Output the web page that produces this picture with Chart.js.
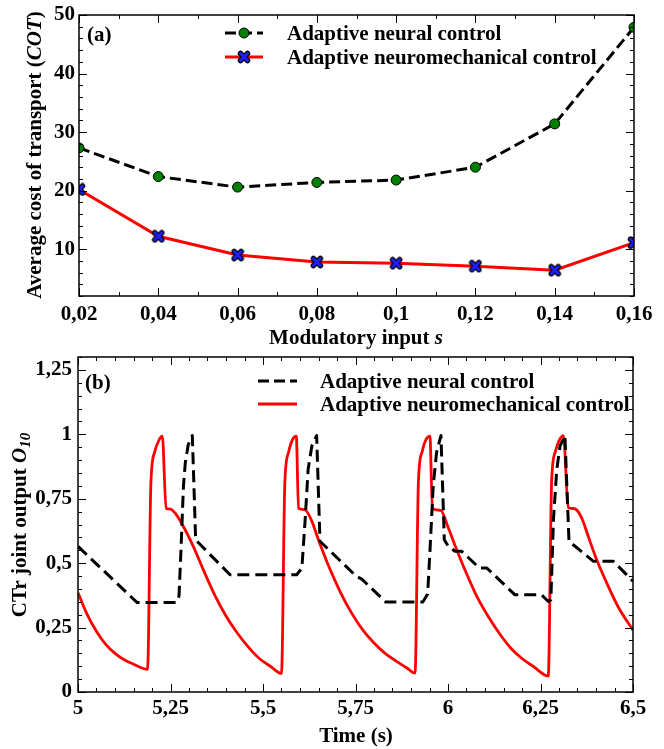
<!DOCTYPE html>
<html>
<head>
<meta charset="utf-8">
<script src="https://cdn.jsdelivr.net/npm/chart.js@4.4.1/dist/chart.umd.min.js"></script>
<style>
    html, body { margin: 0; padding: 0; background: #fff; }
    #wrap { position: relative; width: 664px; height: 749px; }
    canvas { position: absolute; left: 0; }
    #cotChart { top: 0; }
    #ctrChart { top: 352px; }
</style>
</head>
<body>
<div id="wrap">
    <canvas id="cotChart" width="664" height="352"></canvas>
    <canvas id="ctrChart" width="664" height="397"></canvas>
</div>
<script>
// ---- Panel (a): cost of transport vs modulatory input ----
const cotInputs = [0.02, 0.04, 0.06, 0.08, 0.1, 0.12, 0.14, 0.16];
const cotNeural = [27.3, 22.4, 20.6, 21.4, 21.8, 24.0, 31.4, 47.9];
const cotNeuromech = [20.2, 12.2, 9.0, 7.8, 7.6, 7.1, 6.4, 11.1];

const cotTicksX = [0.02, 0.04, 0.06, 0.08, 0.1, 0.12, 0.14, 0.16];
const cotTickLabelsX = ['0,02', '0,04', '0,06', '0,08', '0,1', '0,12', '0,14', '0,16'];
const cotTicksY = [10, 20, 30, 40, 50];
const cotTickLabelsY = ['10', '20', '30', '40', '50'];

// ---- Panel (b): CTr joint output over time ----
const neuralTime = [5.000, 5.160, 5.265, 5.273, 5.278, 5.285, 5.290, 5.298, 5.309, 5.318,
    5.411, 5.591, 5.605, 5.614, 5.622, 5.632, 5.645, 5.654,
    5.752, 5.767, 5.832, 5.932, 5.945, 5.951, 5.960, 5.969, 5.981, 5.990,
    6.001, 6.019, 6.037, 6.085, 6.105, 6.181, 6.253, 6.271, 6.278, 6.285,
    6.294, 6.303, 6.316, 6.327, 6.393, 6.447, 6.500];
const neuralOutput = [0.565, 0.347, 0.347, 0.372, 0.540, 0.800, 0.890, 0.960, 0.995, 0.590,
    0.455, 0.455, 0.480, 0.670, 0.864, 0.955, 0.995, 0.585,
    0.449, 0.438, 0.349, 0.349, 0.380, 0.540, 0.800, 0.929, 0.995, 0.591,
    0.565, 0.546, 0.546, 0.481, 0.481, 0.377, 0.377, 0.351, 0.358, 0.670,
    0.864, 0.955, 0.995, 0.585, 0.507, 0.507, 0.430];

const neuromechTime = [5.000, 5.025, 5.050, 5.075, 5.100, 5.125, 5.150, 5.188,
    5.197, 5.207, 5.218, 5.228,
    5.238, 5.250, 5.262, 5.280, 5.310, 5.340, 5.370, 5.400, 5.430, 5.460, 5.490, 5.520, 5.550,
    5.559, 5.569, 5.580, 5.590,
    5.596, 5.612, 5.630, 5.650, 5.680, 5.710, 5.740, 5.770, 5.800, 5.830, 5.860, 5.890, 5.911,
    5.920, 5.930, 5.940, 5.951,
    5.958, 5.980, 6.000, 6.020, 6.050, 6.080, 6.110, 6.140, 6.170, 6.200, 6.230, 6.271,
    6.280, 6.290, 6.300, 6.312,
    6.325, 6.340, 6.360, 6.380, 6.400, 6.430, 6.460, 6.500];
const neuromechOutput = [0.385, 0.300, 0.235, 0.185, 0.150, 0.125, 0.108, 0.088,
    0.810, 0.930, 0.975, 0.993,
    0.712, 0.710, 0.695, 0.655, 0.570, 0.470, 0.375, 0.295, 0.230, 0.175, 0.130, 0.100, 0.072,
    0.810, 0.930, 0.980, 0.993,
    0.712, 0.708, 0.670, 0.590, 0.480, 0.385, 0.305, 0.240, 0.190, 0.150, 0.120, 0.092, 0.073,
    0.815, 0.932, 0.978, 0.993,
    0.713, 0.705, 0.640, 0.565, 0.460, 0.365, 0.290, 0.225, 0.170, 0.130, 0.100, 0.062,
    0.815, 0.932, 0.975, 0.995,
    0.715, 0.712, 0.680, 0.600, 0.520, 0.420, 0.330, 0.240];

const ctrTicksX = [5, 5.25, 5.5, 5.75, 6, 6.25, 6.5];
const ctrTickLabelsX = ['5', '5,25', '5,5', '5,75', '6', '6,25', '6,5'];
const ctrTicksY = [0, 0.25, 0.5, 0.75, 1, 1.25];
const ctrTickLabelsY = ['0', '0,25', '0,5', '0,75', '1', '1,25'];

// Titles, with italic / subscript parts
const cotTitleY = [{ text: 'Average cost of transport (' }, { text: 'COT', italic: true }, { text: ')' }];
const cotTitleX = [{ text: 'Modulatory input ' }, { text: 's', italic: true }];
const ctrTitleY = [{ text: 'CTr joint output ' }, { text: 'O', italic: true }, { text: '10', italic: true, sub: true }];
const ctrTitleX = [{ text: 'Time (s)' }];

const seriesLabels = ['Adaptive neural control', 'Adaptive neuromechanical control'];

const FAMILY = '"Liberation Serif", "Times New Roman", serif';
const SIZE = 21;

Chart.defaults.font.family = FAMILY;
Chart.defaults.font.weight = 'bold';
Chart.defaults.font.size = SIZE;
Chart.defaults.color = '#000';
Chart.defaults.animation = false;

// Blue X with black outline, used as point style
function makeCross()
{
    const c = document.createElement('canvas');
    c.width = 14;
    c.height = 14;
    const g = c.getContext('2d');
    g.lineCap = 'round';
    const path = () =>
    {
        g.beginPath();
        g.moveTo(3.5, 3.5); g.lineTo(10.5, 10.5);
        g.moveTo(10.5, 3.5); g.lineTo(3.5, 10.5);
    };
    g.strokeStyle = '#000'; g.lineWidth = 5.5; path(); g.stroke();
    g.strokeStyle = '#1f1fff'; g.lineWidth = 3; path(); g.stroke();
    return c;
}

function drawRich(ctx, segments, cx, cy, rotate)
{
    const fontFor = s => (s.italic ? 'italic ' : '') + 'bold ' + (s.sub ? 15 : SIZE) + 'px ' + FAMILY;
    ctx.save();
    ctx.translate(cx, cy);
    if (rotate) ctx.rotate(-Math.PI / 2);
    let total = 0;
    segments.forEach(s => { ctx.font = fontFor(s); total += ctx.measureText(s.text).width; });
    let x = -total / 2;
    ctx.fillStyle = '#000';
    ctx.textBaseline = 'alphabetic';
    segments.forEach(s =>
    {
        ctx.font = fontFor(s);
        ctx.fillText(s.text, x, s.sub ? 11 : 7);
        x += ctx.measureText(s.text).width;
    });
    ctx.restore();
}

// Frame, inward ticks on all four sides, titles and panel tag
const decorPlugin =
{
    id: 'decor',
    afterDatasetsDraw(chart, args, opts)
    {
        const { ctx, chartArea: a, scales: { x, y } } = chart;
        ctx.save();
        ctx.strokeStyle = '#000';
        ctx.setLineDash([]);

        ctx.beginPath();
        const tickX = (v, len) =>
        {
            const p = Math.round(x.getPixelForValue(v)) + 0.5;
            ctx.moveTo(p, a.bottom); ctx.lineTo(p, a.bottom - len);
            ctx.moveTo(p, a.top); ctx.lineTo(p, a.top + len);
        };
        const tickY = (v, len) =>
        {
            const p = Math.round(y.getPixelForValue(v)) + 0.5;
            ctx.moveTo(a.left, p); ctx.lineTo(a.left + len, p);
            ctx.moveTo(a.right, p); ctx.lineTo(a.right - len, p);
        };
        const nx = Math.round((x.max - x.min) / opts.minorX);
        for (let i = 0; i <= nx; i++) tickX(x.min + i * opts.minorX, 4);
        const ny = Math.round((y.max - y.min) / opts.minorY);
        for (let i = 0; i <= ny; i++) tickY(y.min + i * opts.minorY, 4);
        x.ticks.forEach(t => tickX(t.value, 8));
        y.ticks.forEach(t => tickY(t.value, 8));
        ctx.lineWidth = 1;
        ctx.stroke();

        ctx.lineWidth = 1.5;
        ctx.strokeRect(a.left, a.top, a.right - a.left, a.bottom - a.top);
        ctx.restore();
    },
    afterDraw(chart, args, opts)
    {
        const ctx = chart.ctx;
        drawRich(ctx, opts.titleY.segments, opts.titleY.x, opts.titleY.y, true);
        drawRich(ctx, opts.titleX.segments, opts.titleX.x, opts.titleX.y, false);
        ctx.save();
        ctx.font = 'bold ' + SIZE + 'px ' + FAMILY;
        ctx.fillStyle = '#000';
        ctx.fillText(opts.tag.text, opts.tag.x, opts.tag.y);
        ctx.restore();
    }
};

// Legend drawn inside the plot area
const insideLegendPlugin =
{
    id: 'insideLegend',
    afterDraw(chart, args, opts)
    {
        const ctx = chart.ctx;
        ctx.save();
        chart.data.datasets.forEach((ds, i) =>
        {
            const yy = opts.rows[i];
            ctx.beginPath();
            ctx.setLineDash(opts.dash[i] || []);
            ctx.strokeStyle = ds.borderColor;
            ctx.lineWidth = ds.borderWidth;
            ctx.moveTo(opts.lineFrom, yy);
            ctx.lineTo(opts.lineTo, yy);
            ctx.stroke();
            ctx.setLineDash([]);
            if (ds.pointRadius > 0)
            {
                ctx.fillStyle = ds.pointBackgroundColor;
                ctx.strokeStyle = ds.pointBorderColor;
                ctx.lineWidth = ds.pointBorderWidth;
                Chart.helpers.drawPoint(ctx,
                    { pointStyle: ds.pointStyle, radius: ds.pointRadius, borderWidth: ds.pointBorderWidth, rotation: 0 },
                    (opts.lineFrom + opts.lineTo) / 2, yy);
            }
            ctx.font = 'bold ' + SIZE + 'px ' + FAMILY;
            ctx.fillStyle = '#000';
            ctx.textBaseline = 'alphabetic';
            ctx.fillText(ds.label, opts.textX, yy + 7);
        });
        ctx.restore();
    }
};

function fixedAxis(min, max, values, labels, size, isX, pad)
{
    return {
        type: 'linear',
        min: min,
        max: max,
        grid: { display: false, drawTicks: false },
        border: { display: false },
        afterBuildTicks: s => { s.ticks = values.map(v => ({ value: v })); },
        ticks:
        {
            autoSkip: false,
            maxRotation: 0,
            padding: pad,
            callback: (v, i) => labels[i]
        },
        afterFit: s =>
        {
            if (isX) s.height = size; else s.width = size;
            s.paddingTop = 0; s.paddingBottom = 0; s.paddingLeft = 0; s.paddingRight = 0;
        }
    };
}

const toPoints = (xs, ys) => xs.map((v, i) => ({ x: v, y: ys[i] }));

// Panel (a)
new Chart(document.getElementById('cotChart'),
{
    type: 'line',
    data:
    {
        datasets:
        [
            {
                label: seriesLabels[0],
                data: toPoints(cotInputs, cotNeural),
                borderColor: '#000',
                borderWidth: 3,
                borderDash: [11, 5],
                pointStyle: 'circle',
                pointRadius: 5,
                pointBackgroundColor: '#008000',
                pointBorderColor: '#000',
                pointBorderWidth: 1
            },
            {
                label: seriesLabels[1],
                data: toPoints(cotInputs, cotNeuromech),
                borderColor: '#ff0000',
                borderWidth: 3,
                pointStyle: makeCross(),
                pointRadius: 6,
                pointBackgroundColor: '#1f1fff',
                pointBorderColor: '#000',
                pointBorderWidth: 1
            }
        ]
    },
    options:
    {
        responsive: false,
        layout: { padding: { top: 15, right: 30, bottom: 0, left: 0 } },
        elements: { line: { tension: 0 } },
        plugins:
        {
            legend: { display: false },
            tooltip: { enabled: false },
            decor:
            {
                minorX: 0.01,
                minorY: 2,
                titleY: { segments: cotTitleY, x: 34, y: 155 },
                titleX: { segments: cotTitleX, x: 356, y: 337 },
                tag: { text: '(a)', x: 87, y: 41 }
            },
            insideLegend:
            {
                lineFrom: 225, lineTo: 263, textX: 287,
                rows: [33, 57],
                dash: [[11, 5], []]
            }
        },
        scales:
        {
            x: fixedAxis(0.02, 0.16, cotTicksX, cotTickLabelsX, 56, true, 6),
            y: fixedAxis(2, 50, cotTicksY, cotTickLabelsY, 79, false, 4)
        }
    },
    plugins: [decorPlugin, insideLegendPlugin]
});

// Panel (b)
new Chart(document.getElementById('ctrChart'),
{
    type: 'line',
    data:
    {
        datasets:
        [
            {
                label: seriesLabels[0],
                data: toPoints(neuralTime, neuralOutput),
                borderColor: '#000',
                borderWidth: 3,
                borderDash: [12, 6],
                borderJoinStyle: 'round',
                pointRadius: 0,
                tension: 0
            },
            {
                label: seriesLabels[1],
                data: toPoints(neuromechTime, neuromechOutput),
                borderColor: '#ff0000',
                borderWidth: 2.8,
                borderJoinStyle: 'round',
                pointRadius: 0,
                cubicInterpolationMode: 'monotone'
            }
        ]
    },
    options:
    {
        responsive: false,
        layout: { padding: { top: 5, right: 31, bottom: 0, left: 0 } },
        plugins:
        {
            legend: { display: false },
            tooltip: { enabled: false },
            decor:
            {
                minorX: 0.05,
                minorY: 0.05,
                titleY: { segments: ctrTitleY, x: 19, y: 173 },
                titleX: { segments: ctrTitleX, x: 356, y: 383 },
                tag: { text: '(b)', x: 85, y: 37 }
            },
            insideLegend:
            {
                lineFrom: 258, lineTo: 297, textX: 320,
                rows: [29, 52],
                dash: [[11, 5], []]
            }
        },
        scales:
        {
            x: fixedAxis(5, 6.5, ctrTicksX, ctrTickLabelsX, 57, true, 4),
            y: fixedAxis(0, 1.3, ctrTicksY, ctrTickLabelsY, 78, false, 6)
        }
    },
    plugins: [decorPlugin, insideLegendPlugin]
});
</script>
</body>
</html>
